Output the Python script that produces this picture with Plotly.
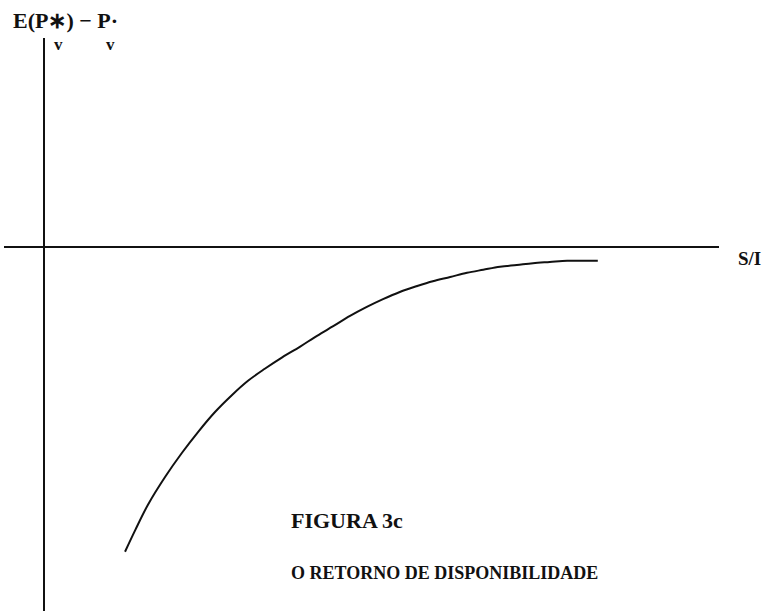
from typing import List
import plotly.graph_objs as go

# Curve (arbitrary units, origin at the axes crossing)
si_values: List[float] = [1.35, 1.52, 1.73, 2.02, 2.30, 2.57, 2.85, 3.13, 3.40, 3.68, 3.97, 4.27, 4.55, 4.82, 5.10,
                          5.38, 5.65, 5.93, 6.22, 6.48, 6.77, 7.05, 7.32, 7.60, 7.88, 8.15, 8.43, 8.72, 8.98, 9.23]
return_values: List[float] = [-5.08, -4.72, -4.30, -3.83, -3.43, -3.08, -2.75, -2.47, -2.23, -2.03, -1.84, -1.66,
                              -1.48, -1.32, -1.15, -1.00, -0.87, -0.75, -0.65, -0.57, -0.50, -0.43, -0.38, -0.33,
                              -0.30, -0.27, -0.25, -0.23, -0.23, -0.23]

x_axis_label: str = "S/I"
y_axis_label: str = "E(P∗) − P·"
y_axis_subscripts: List[str] = ["v", "v"]
figure_title: str = "FIGURA 3c"
figure_subtitle: str = "O RETORNO DE DISPONIBILIDADE"

FONT: str = "Liberation Serif, Times New Roman, serif"
WIDTH, HEIGHT = 765, 611
MARGIN = dict(l=4, r=46, t=38, b=0)


def px_to_paper(px: float, py: float):
    # pixel position in the page -> paper coordinates of the plot area
    plot_w = WIDTH - MARGIN['l'] - MARGIN['r']
    plot_h = HEIGHT - MARGIN['t'] - MARGIN['b']
    return (px - MARGIN['l']) / plot_w, (HEIGHT - MARGIN['b'] - py) / plot_h


def label(text: str, px: float, py: float, size: int, anchor: str = 'left') -> dict:
    x, y = px_to_paper(px, py)
    return dict(text=text, x=x, y=y, xref='paper', yref='paper', xanchor=anchor, yanchor='middle',
                showarrow=False, font=dict(family=FONT, size=size, color='#111111'))


fig = go.Figure(data=[go.Scatter(x=si_values, y=return_values, mode='lines',
                                 line=dict(color='#111111', width=2, shape='spline', smoothing=1.0),
                                 hoverinfo='skip')])

fig.update_layout(width=WIDTH, height=HEIGHT, margin=MARGIN, showlegend=False,
                  plot_bgcolor='white', paper_bgcolor='white')
fig.update_xaxes(range=[-0.667, 11.25], showgrid=False, showticklabels=False, ticks='',
                 zeroline=True, zerolinecolor='#111111', zerolinewidth=2, showline=False)
fig.update_yaxes(range=[-6.067, 3.483], showgrid=False, showticklabels=False, ticks='',
                 zeroline=True, zerolinecolor='#111111', zerolinewidth=2, showline=False)

fig.update_layout(annotations=[
    label("<b>" + y_axis_label + "</b>", 11, 20, 22),
    label("<b>" + y_axis_subscripts[0] + "</b>", 58, 44, 17, 'center'),
    label("<b>" + y_axis_subscripts[1] + "</b>", 110, 44, 17, 'center'),
    label("<b>" + x_axis_label + "</b>", 736, 258, 19),
    label("<b>" + figure_title + "</b>", 289, 520, 22),
    label("<b>" + figure_subtitle + "</b>", 289, 573, 18),
])

# page body has an 8px margin by default, drop it so the figure fills the window
fig.write_html("out.html", config={'displayModeBar': False},
               post_script="document.body.style.margin = '0';")
